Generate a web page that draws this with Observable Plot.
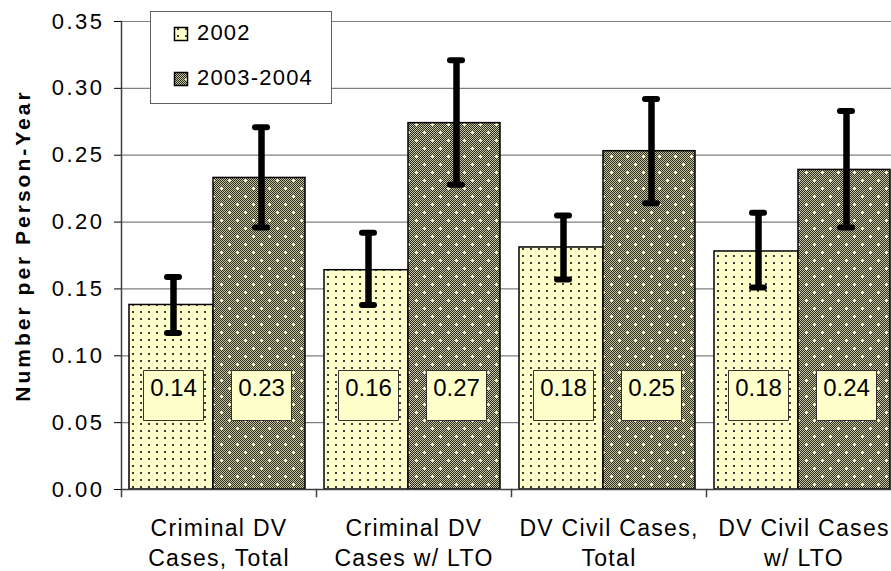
<!DOCTYPE html>
<html><head><meta charset="utf-8">
<script src="https://cdn.jsdelivr.net/npm/d3@7"></script>
<script src="https://cdn.jsdelivr.net/npm/@observablehq/plot@0.6"></script>
<style>
html,body{margin:0;padding:0;background:#fff;overflow:hidden;}
#wrap{position:relative;width:891px;height:571px;}
#legend{position:absolute;left:150px;top:11px;}
g[aria-label="y-axis tick label"]{letter-spacing:2.5px;}
g[aria-label="fx-axis tick label"]{letter-spacing:1.3px;}
.ylab{letter-spacing:3px;}
</style></head><body>
<svg width="0" height="0" style="position:absolute">
<defs>
<pattern id="checker" width="2" height="2" patternUnits="userSpaceOnUse">
<rect width="2" height="2" fill="#2c2c22"/>
<rect width="1" height="1" fill="#c4c4a2"/>
<rect x="1" y="1" width="1" height="1" fill="#c4c4a2"/>
</pattern>
<pattern id="p2003" width="16" height="16" patternUnits="userSpaceOnUse">
<rect width="16" height="16" fill="url(#checker)"/>
<rect x="3" y="4" width="3" height="1" fill="#ffffcc"/>
<rect x="4" y="3" width="1" height="3" fill="#ffffcc"/>
<rect x="11" y="12" width="3" height="1" fill="#ffffcc"/>
<rect x="12" y="11" width="1" height="3" fill="#ffffcc"/>
</pattern>
<pattern id="p2002" width="8" height="7" patternUnits="userSpaceOnUse">
<rect width="8" height="7" fill="#ffffcc"/>
<rect x="3" y="3" width="2" height="2" fill="#3c3c3c"/>
</pattern>
</defs></svg>
<div id="wrap"></div>
<script>
const categories = ["Criminal DV Cases, Total", "Criminal DV Cases w/ LTO", "DV Civil Cases, Total", "DV Civil Cases w/ LTO"];
const categoryLabels = ["Criminal DV\nCases, Total", "Criminal DV\nCases w/ LTO", "DV Civil Cases,\nTotal", "DV Civil Cases\nw/ LTO"];
const years = ["2002", "2003-2004"];
const rate2002 = [0.138, 0.164, 0.181, 0.178];
const rate2003 = [0.233, 0.274, 0.253, 0.239];
const low2002 = [0.117, 0.138, 0.157, 0.151];
const high2002 = [0.159, 0.192, 0.205, 0.207];
const low2003 = [0.196, 0.228, 0.214, 0.196];
const high2003 = [0.271, 0.321, 0.292, 0.283];
const yTicks = [0, 0.05, 0.10, 0.15, 0.20, 0.25, 0.30, 0.35];
const yLabel = "Number per Person-Year";
const fills = ["url(#p2002)", "url(#p2003)"];

const data = categories.flatMap((c, i) => [
  {category: c, year: years[0], value: rate2002[i], low: low2002[i], high: high2002[i]},
  {category: c, year: years[1], value: rate2003[i], low: low2003[i], high: high2003[i]}
]);
const fmt = d3.format(".2f");
const font = '"Liberation Sans", Arial, Helvetica, sans-serif';
const boxSymbol = {draw(ctx) { ctx.moveTo(-30, -25); ctx.lineTo(30, -25); ctx.lineTo(30, 25); ctx.lineTo(-30, 25); ctx.closePath(); }};

const chart = Plot.plot({
  width: 891, height: 571,
  marginLeft: 120, marginRight: -10, marginTop: 21, marginBottom: 82,
  style: {fontFamily: font, background: "white", color: "black", overflow: "hidden"},
  fx: {domain: categories, padding: 0, label: null},
  x: {domain: years, paddingInner: 0, paddingOuter: 0.1, align: 0.41, axis: null},
  y: {domain: [0, 0.35], label: null},
  color: {domain: years, range: fills},
  marks: [
    Plot.gridY(yTicks.filter(t => t > 0), {stroke: "#808080", strokeOpacity: 1, strokeWidth: 1.2}),
    Plot.barY(data.filter(d => d.year === years[0]), {fx: "category", x: "year", y: "value", fill: "year", stroke: "black", strokeWidth: 1.5, insetRight: 4}),
    Plot.barY(data.filter(d => d.year === years[1]), {fx: "category", x: "year", y: "value", fill: "year", stroke: "black", strokeWidth: 1.5, insetLeft: -4}),
    Plot.ruleX(data, {fx: "category", x: "year", y1: "low", y2: "high", stroke: "black", strokeWidth: 6.5}),
    Plot.tickY(data, {fx: "category", x: "year", y: "low", stroke: "black", strokeWidth: 6, strokeLinecap: "round", insetLeft: 38, insetRight: 38}),
    Plot.tickY(data, {fx: "category", x: "year", y: "high", stroke: "black", strokeWidth: 6, strokeLinecap: "round", insetLeft: 38, insetRight: 38}),
    Plot.dot(data, {fx: "category", x: "year", frameAnchor: "bottom", dy: -94, symbol: boxSymbol, r: 10, fill: "#ffffcc", stroke: "#333", strokeWidth: 1}),
    Plot.text(data, {fx: "category", x: "year", frameAnchor: "bottom", dy: -94, text: d => fmt(d.value), fontSize: 24, fill: "black"}),
    Plot.ruleY([0], {stroke: "#404040", strokeWidth: 1.5}),
    Plot.frame({anchor: "left", facetAnchor: "left", stroke: "#404040", strokeWidth: 1.5}),
    Plot.frame({anchor: "left", insetTop: 468, insetBottom: -7, stroke: "#404040", strokeWidth: 1.5}),
    Plot.axisY(yTicks, {tickSize: 7, tickPadding: 10, tickFormat: fmt, fontSize: 22, label: null}),
    Plot.axisFx({anchor: "bottom", tickSize: 0, tickPadding: 25, fontSize: 23, lineHeight: 1.3, tickFormat: d => categoryLabels[categories.indexOf(d)], label: null}),
    Plot.text([yLabel], {text: d => d, frameAnchor: "left", facetAnchor: "left", textAnchor: "middle", rotate: -90, dx: -98, dy: -10, fontSize: 21, fontWeight: "bold", fill: "black", className: "ylab"})
  ]
});
document.getElementById("wrap").appendChild(chart);

// Legend overlay
const leg = d3.select("#wrap").append("svg").attr("id", "legend").attr("width", 183).attr("height", 94)
  .style("font-family", font);
leg.append("rect").attr("x", 0.5).attr("y", 0.5).attr("width", 181).attr("height", 92)
  .attr("fill", "white").attr("stroke", "#606060").attr("stroke-width", 1);
years.forEach((yr, i) => {
  const top = i === 0 ? 16 : 61;
  leg.append("rect").attr("x", 24.5).attr("y", top + 0.5).attr("width", 13).attr("height", 13)
    .attr("fill", fills[i]).attr("stroke", "black").attr("stroke-width", 1.5);
  leg.append("text").attr("x", 47).attr("y", top + 13).attr("font-size", 22)
    .style("letter-spacing", "1.2px").text(yr);
});
</script>
</body></html>
